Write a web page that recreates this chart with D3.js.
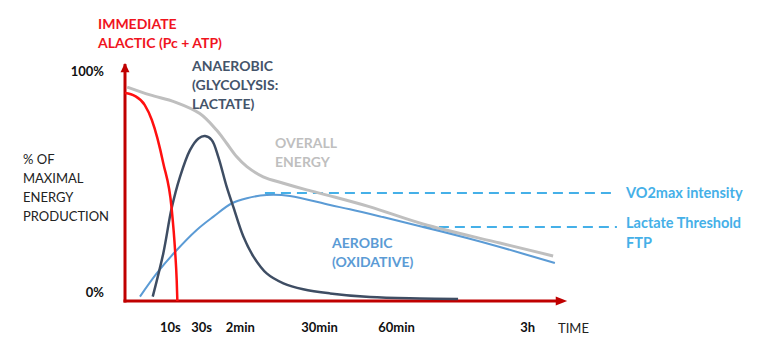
<!DOCTYPE html>
<html>
<head>
<meta charset="utf-8">
<script src="https://cdn.jsdelivr.net/npm/d3@7"></script>
<style>
  html, body { margin: 0; padding: 0; background: #fff; }
  svg { display: block; font-family: Lato, "Open Sans", sans-serif; }
</style>
</head>
<body>
<svg id="chart" width="774" height="343"></svg>
<script>
// Energy-system contribution over exercise duration (conceptual, % of maximal production)
// x: relative time position along the axis (0–100), y: % of maximal energy production

const immediate = [
  [0, 90.4], [2.3, 89.1], [4.5, 85.2], [6.1, 78.7], [8.7, 59.9],
  [10.6, 40.3], [11.4, 21.4], [11.75, 9.0], [11.9, 0]
];

const anaerobic = [
  [6.3, 1.9], [8.7, 20.7], [10.6, 40.3], [12.5, 54.0], [14.8, 65.7],
  [16.7, 70.7], [18.2, 71.7], [19.7, 70.0], [21.2, 62.7], [23.1, 49.7],
  [24.6, 41.0], [26.9, 28.0], [29.2, 19.3], [32.2, 12.0], [36.0, 7.7],
  [40.5, 5.1], [46.6, 3.3], [55.7, 1.7], [67.0, 1.1], [75.7, 0.9]
];

const aerobic = [
  [3.4, 1.9], [7.2, 12.0], [11.4, 21.4], [16.3, 30.9], [20.1, 36.7],
  [24.3, 42.5], [27.7, 44.7], [32.2, 46.1], [37.5, 45.7], [46.6, 41.7],
  [51.1, 39.9], [58.6, 36.5], [67.7, 32.2], [77.7, 27.4], [85.2, 23.5],
  [97.7, 16.5]
];

const overall = [
  [0.5, 93.0], [5.7, 89.6], [11.4, 86.5], [17.0, 81.5], [20.8, 74.3],
  [23.1, 68.6], [25.4, 62.7], [27.7, 58.4], [31.4, 54.0], [36.0, 51.2],
  [41.3, 48.3], [46.6, 45.7], [55.7, 40.9], [67.7, 33.5], [85.2, 25.2],
  [97.3, 19.6]
];

// Reference intensity levels: [start x, end x, level]
const vo2maxLevel = [31.8, 111.8, 47.0];
const lactateLevel = [67.7, 111.8, 32.2];

const timeTicks = [10.2, 17.3, 26.1, 44.1, 61.6, 91.4];
const timeLabels = ["10s", "30s", "2min", "30min", "60min", "3h"];

const svg = d3.select("#chart");

const x = d3.scaleLinear().domain([0, 100]).range([125, 565]);
const y = d3.scaleLinear().domain([0, 100]).range([301, 71]);

const axisRed = "#C00000";

// Axes with arrowheads
svg.append("line")
  .attr("x1", x(0)).attr("x2", x(0))
  .attr("y1", y(0) + 1.5).attr("y2", y(103))
  .attr("stroke", axisRed).attr("stroke-width", 3);
svg.append("path")
  .attr("d", `M${x(0)},${y(103.5)} L${x(0) - 4.5},${y(99.5)} L${x(0) + 4.5},${y(99.5)} Z`)
  .attr("fill", axisRed);

svg.append("line")
  .attr("x1", x(0) - 1.5).attr("x2", x(98))
  .attr("y1", y(0)).attr("y2", y(0))
  .attr("stroke", axisRed).attr("stroke-width", 3);
svg.append("path")
  .attr("d", `M${x(100.5)},${y(0)} L${x(97.9)},${y(0) - 4.5} L${x(97.9)},${y(0) + 4.5} Z`)
  .attr("fill", axisRed);

// Reference levels (dashed)
const dashColor = "#45B0E8";
[vo2maxLevel, lactateLevel].forEach(([x0, x1, lv]) => {
  svg.append("line")
    .attr("x1", x(x0)).attr("x2", x(x1))
    .attr("y1", y(lv)).attr("y2", y(lv))
    .attr("stroke", dashColor).attr("stroke-width", 2)
    .attr("stroke-dasharray", "10,6");
});

const line = d3.line().x(d => x(d[0])).y(d => y(d[1])).curve(d3.curveCatmullRom.alpha(0.5));
const lineMono = d3.line().x(d => x(d[0])).y(d => y(d[1])).curve(d3.curveMonotoneX);

svg.append("path").datum(overall)
  .attr("d", line).attr("fill", "none")
  .attr("stroke", "#BFBFBF").attr("stroke-width", 3);

svg.append("path").datum(aerobic)
  .attr("d", line).attr("fill", "none")
  .attr("stroke", "#5B9BD5").attr("stroke-width", 2);

svg.append("path").datum(anaerobic)
  .attr("d", line).attr("fill", "none")
  .attr("stroke", "#3E4D63").attr("stroke-width", 2.5);

svg.append("path").datum(immediate)
  .attr("d", lineMono).attr("fill", "none")
  .attr("stroke", "#FF1010").attr("stroke-width", 2.5);

// Time axis labels
const xAxis = d3.axisBottom(x)
  .tickValues(timeTicks)
  .tickFormat((d, i) => timeLabels[i])
  .tickSize(0);
const gx = svg.append("g")
  .attr("transform", `translate(0, ${y(0) + 19})`)
  .call(xAxis);
gx.select(".domain").remove();
gx.selectAll("text")
  .attr("font-family", "Lato, sans-serif")
  .attr("font-size", 13).attr("font-weight", "bold").attr("fill", "#111");

svg.append("text").attr("x", 558).attr("y", 333)
  .attr("font-size", 13).attr("fill", "#222").text("TIME");

// Y labels
svg.append("text").attr("x", 104).attr("y", 76).attr("text-anchor", "end")
  .attr("font-size", 13).attr("font-weight", "bold").attr("fill", "#111").text("100%");
svg.append("text").attr("x", 104).attr("y", 297).attr("text-anchor", "end")
  .attr("font-size", 13).attr("font-weight", "bold").attr("fill", "#111").text("0%");

const yTitle = ["% OF", "MAXIMAL", "ENERGY", "PRODUCTION"];
svg.append("g").selectAll("text").data(yTitle).join("text")
  .attr("x", 23).attr("y", (d, i) => 164 + i * 19)
  .attr("font-size", 13).attr("fill", "#222").text(d => d);

// Series annotations
function block(lines, px, py, color, step, size) {
  svg.append("g").selectAll("text").data(lines).join("text")
    .attr("x", px).attr("y", (d, i) => py + i * step)
    .attr("font-size", size || 14).attr("font-weight", "bold").attr("fill", color)
    .text(d => d);
}
block(["IMMEDIATE", "ALACTIC (Pc + ATP)"], 98, 29, "#F0141E", 19);
block(["ANAEROBIC", "(GLYCOLYSIS:", "LACTATE)"], 192, 71, "#44546A", 19);
block(["OVERALL", "ENERGY"], 275, 148, "#BFBFBF", 19);
block(["AEROBIC", "(OXIDATIVE)"], 332, 248, "#5B9BD5", 19);
block(["VO2max intensity"], 626, 198, dashColor, 19, 14.5);
block(["Lactate Threshold", "FTP"], 626, 228, dashColor, 20, 14.5);
</script>
</body>
</html>
